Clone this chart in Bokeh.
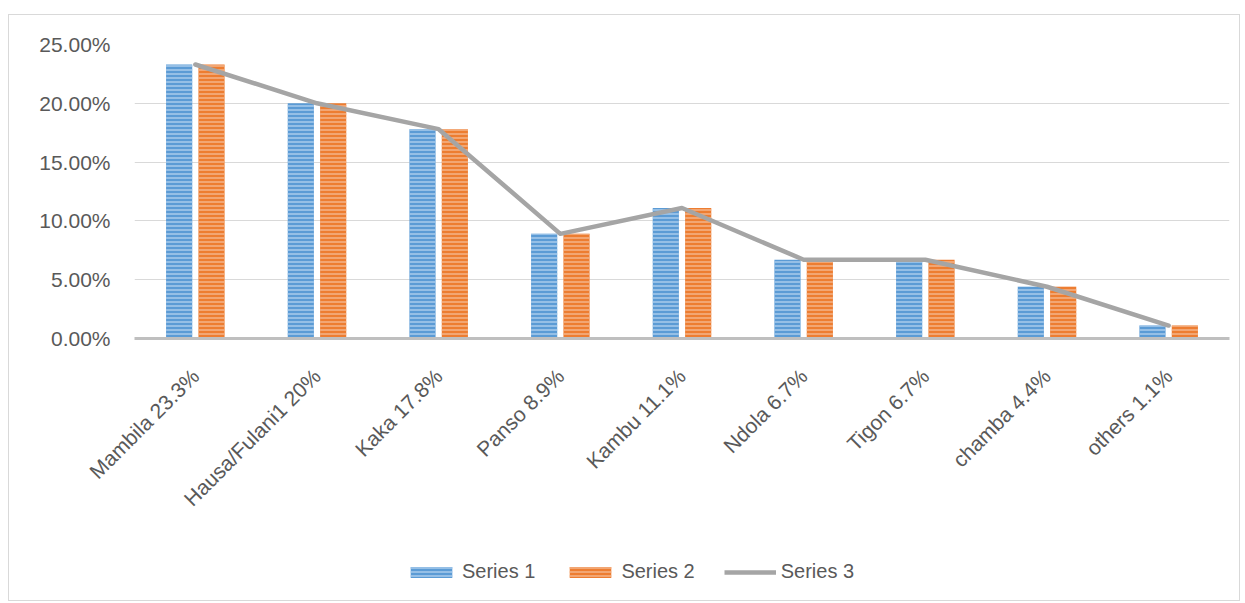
import math
from bokeh.plotting import figure
from bokeh.layouts import column
from bokeh.models import ColumnDataSource, FactorRange, Range1d, NumeralTickFormatter, Legend, LegendItem, FixedTicker
from bokeh.transform import dodge
from bokeh.embed import file_html
from bokeh.resources import INLINE

categories = ["Mambila 23.3%", "Hausa/Fulani1 20%", "Kaka 17.8%", "Panso 8.9%", "Kambu 11.1%",
              "Ndola 6.7%", "Tigon 6.7%", "chamba 4.4%", "others 1.1%"]
series1 = [0.233, 0.200, 0.178, 0.089, 0.111, 0.067, 0.067, 0.044, 0.011]
series2 = [0.233, 0.200, 0.178, 0.089, 0.111, 0.067, 0.067, 0.044, 0.011]
series3 = [0.233, 0.200, 0.178, 0.089, 0.111, 0.067, 0.067, 0.044, 0.011]
y_ticks = [0, 0.05, 0.10, 0.15, 0.20, 0.25]
series_names = ["Series 1", "Series 2", "Series 3"]

src = ColumnDataSource(dict(cat=categories, s1=series1, s2=series2, s3=series3))

FONT = "Liberation Sans"
TXT = "#595959"
BLUE, BLUE_H = "#5b9bd5", "#a8cbec"
ORANGE, ORANGE_H = "#ed7d31", "#f5b48a"
GREY = "#a5a5a5"

p = figure(x_range=FactorRange(*categories, range_padding=0), y_range=Range1d(0, 0.25),
           width=1230, height=525, output_backend="svg", toolbar_location=None,
           min_border_left=125, min_border_right=10, min_border_top=29, min_border_bottom=202)
p.outline_line_color = None
p.background_fill_color = "white"
p.border_fill_color = "white"

bar_kw = dict(width=0.215, source=src, line_color=None, hatch_pattern="horizontal_line",
              hatch_scale=4, hatch_weight=1.5)
b1 = p.vbar(x=dodge("cat", -0.133, range=p.x_range), top="s1", fill_color=BLUE, hatch_color=BLUE_H, **bar_kw)
b2 = p.vbar(x=dodge("cat", 0.133, range=p.x_range), top="s2", fill_color=ORANGE, hatch_color=ORANGE_H, **bar_kw)
l3 = p.line(x="cat", y="s3", source=src, line_color=GREY, line_width=4.5, line_cap="round", line_join="round")

p.yaxis.ticker = FixedTicker(ticks=y_ticks)
p.yaxis.formatter = NumeralTickFormatter(format="0.00%")
p.yaxis.axis_line_color = None
p.yaxis.major_tick_line_color = None
p.yaxis.minor_tick_line_color = None
p.yaxis.major_label_standoff = 18
p.yaxis.major_label_text_font = FONT
p.yaxis.major_label_text_font_size = "21px"
p.yaxis.major_label_text_color = TXT

p.xaxis.axis_line_color = "#bfbfbf"
p.xaxis.axis_line_width = 3
p.xaxis.major_tick_line_color = None
p.xaxis.minor_tick_line_color = None
p.xaxis.major_label_orientation = math.pi / 4
p.xaxis.major_label_standoff = 28
p.xaxis.major_label_text_font = FONT
p.xaxis.major_label_text_font_size = "21px"
p.xaxis.major_label_text_color = TXT

p.xgrid.grid_line_color = None
p.ygrid.grid_line_color = "#d9d9d9"
p.ygrid.grid_line_width = 1

# legend strip: same series, drawn off-range so only the legend is visible
p2 = figure(x_range=FactorRange(*categories, range_padding=0), y_range=Range1d(10, 11),
            width=1230, height=60, output_backend="svg", toolbar_location=None,
            x_axis_type=None, y_axis_type=None,
            min_border_left=0, min_border_right=0, min_border_top=0, min_border_bottom=0)
p2.outline_line_color = None
p2.grid.visible = False
lb1 = p2.vbar(x=dodge("cat", -0.133, range=p2.x_range), top="s1", fill_color=BLUE, hatch_color=BLUE_H, **bar_kw)
lb2 = p2.vbar(x=dodge("cat", 0.133, range=p2.x_range), top="s2", fill_color=ORANGE, hatch_color=ORANGE_H, **bar_kw)
ll3 = p2.line(x="cat", y="s3", source=src, line_color=GREY, line_width=4.5)

legend = Legend(items=[LegendItem(label=series_names[0], renderers=[lb1]),
                       LegendItem(label=series_names[1], renderers=[lb2]),
                       LegendItem(label=series_names[2], renderers=[ll3])],
                orientation="horizontal", location=(271, 17),
                glyph_width=52, glyph_height=14, spacing=29, label_standoff=5,
                label_text_font=FONT, label_text_font_size="20px", label_text_color=TXT,
                border_line_color=None, background_fill_alpha=0, margin=0, padding=5)
p2.add_layout(legend)

layout = column(p, p2, spacing=0)
layout.margin = (14, 0, 0, 8)
layout.styles = {"border": "1px solid #d9d9d9"}

open("out.html", "w").write(file_html(layout, INLINE))
